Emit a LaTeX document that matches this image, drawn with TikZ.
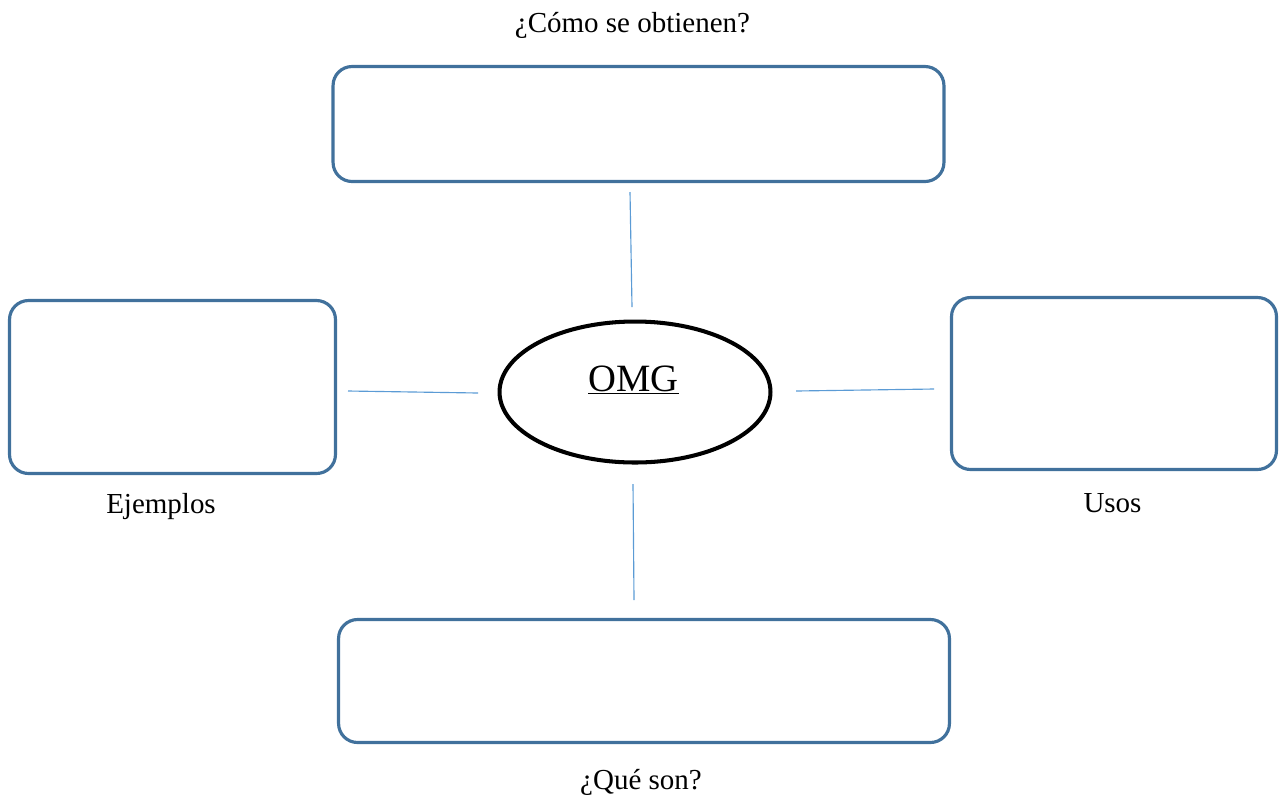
\documentclass[tikz,border=0pt]{standalone}
\usepackage{fontspec}
\setmainfont{Liberation Serif}
\usetikzlibrary{shapes.geometric}
\definecolor{boxblue}{HTML}{41719C}
\definecolor{linkblue}{HTML}{5B9BD5}
\tikzset{
    caja/.style={draw=boxblue, line width=1.8pt, rounded corners=0.38cm, inner sep=0pt},
    link/.style={draw=linkblue, line width=0.65pt},
    etiqueta/.style={anchor=base, inner sep=0pt, font=\fontsize{16.5}{19}\selectfont}
}

\begin{document}
\begin{tikzpicture}[x=0.02cm, y=-0.02cm]
        \useasboundingbox (0,0) rectangle (1280,802);
        % cajas
        \node[caja, minimum width=12.22cm, minimum height=2.3cm] (obtienen) at (638.5,124) {};
        \node[caja, minimum width=6.52cm, minimum height=3.46cm] (ejemplos) at (172.5,387) {};
        \node[caja, minimum width=6.5cm, minimum height=3.44cm] (usos) at (1114,383.5) {};
        \node[caja, minimum width=12.22cm, minimum height=2.46cm] (queson) at (644,681) {};
        % centro
        \node[ellipse, draw=black, line width=2.3pt, inner sep=0pt,
            minimum width=5.42cm, minimum height=2.82cm] (omg) at (635,392) {};
        \node[anchor=base, inner sep=0pt, font=\fontsize{22}{26}\selectfont] (omgtxt) at (633.5,391) {\underline{OMG}};
        % conectores
        \coordinate (a1) at (630,192);
        \coordinate (a2) at (632,307);
        \coordinate (b1) at (348,391);
        \coordinate (b2) at (478,393);
        \coordinate (c1) at (796,391);
        \coordinate (c2) at (934,389);
        \coordinate (d1) at (633,484);
        \coordinate (d2) at (634,600);
        \draw[link] (a1) -- (a2);
        \draw[link] (b1) -- (b2);
        \draw[link] (c1) -- (c2);
        \draw[link] (d1) -- (d2);
        % etiquetas
        \node[etiqueta] (lobt) at (632.5,32) {¿Cómo se obtienen?};
        \node[etiqueta] (lejem) at (161,513) {Ejemplos};
        \node[etiqueta] (lusos) at (1112.5,512) {Usos};
        \node[etiqueta] (lque) at (641,789) {¿Qué son?};
    \end{tikzpicture}
\end{document}
